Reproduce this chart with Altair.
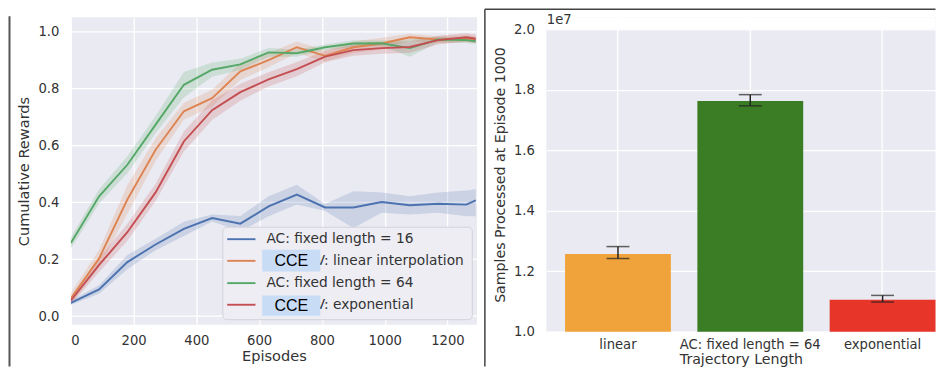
import altair as alt
import pandas as pd

# ---------------- data: left panel ----------------
episodes = [0, 90, 180, 270, 360, 450, 540, 630, 720, 810, 900, 990, 1080, 1170, 1260, 1290]

series_names = [
    "AC: fixed length = 16",
    "V: linear interpolation",
    "AC: fixed length = 64",
    "V: exponential",
]
series_colors = ["#4C72B0", "#DD8452", "#55A868", "#C44E52"]

mean_fixed16 = [0.047, 0.094, 0.19, 0.252, 0.307, 0.345, 0.325, 0.386, 0.427, 0.382, 0.382, 0.401, 0.39, 0.395, 0.392, 0.407]
lo_fixed16 = [0.039, 0.079, 0.165, 0.232, 0.282, 0.333, 0.298, 0.351, 0.392, 0.37, 0.31, 0.363, 0.357, 0.363, 0.351, 0.351]
hi_fixed16 = [0.055, 0.109, 0.215, 0.272, 0.332, 0.357, 0.352, 0.421, 0.462, 0.394, 0.439, 0.435, 0.421, 0.435, 0.442, 0.446]

mean_linear = [0.062, 0.203, 0.41, 0.585, 0.72, 0.766, 0.86, 0.90, 0.945, 0.915, 0.945, 0.958, 0.98, 0.972, 0.975, 0.972]
err_linear = [0.02, 0.03, 0.05, 0.04, 0.03, 0.03, 0.03, 0.025, 0.02, 0.02, 0.02, 0.02, 0.012, 0.012, 0.012, 0.012]

mean_fixed64 = [0.257, 0.421, 0.532, 0.673, 0.813, 0.866, 0.885, 0.927, 0.924, 0.945, 0.958, 0.959, 0.942, 0.972, 0.970, 0.966]
err_fixed64 = [0.02, 0.025, 0.03, 0.03, 0.045, 0.025, 0.02, 0.015, 0.012, 0.01, 0.012, 0.01, 0.03, 0.01, 0.01, 0.01]

mean_expo = [0.055, 0.18, 0.295, 0.435, 0.614, 0.724, 0.787, 0.832, 0.868, 0.912, 0.935, 0.942, 0.946, 0.97, 0.98, 0.975]
err_expo = [0.015, 0.025, 0.03, 0.03, 0.035, 0.035, 0.03, 0.025, 0.025, 0.02, 0.02, 0.02, 0.02, 0.015, 0.015, 0.015]

x_ticks = [0, 200, 400, 600, 800, 1000, 1200]
y_ticks = [0.0, 0.2, 0.4, 0.6, 0.8, 1.0]

# ---------------- data: right panel ----------------
bar_categories = ["linear", "AC: fixed length = 64", "exponential"]
bar_values = [12570000, 17630000, 11060000]
bar_lo = [12420000, 17470000, 10980000]
bar_hi = [12815000, 17840000, 11200000]
bar_colors = ["#F0A33A", "#3A7D24", "#E8352A"]
bar_y_ticks = [10000000, 12000000, 14000000, 16000000, 18000000, 20000000]

# legend layout (manual legend, pixel positions inside the left plot)
legend_box = [152.3, 402.3, 210.3, 303.0]
legend_rows_y = [222.3, 244.0, 266.3, 288.0]
legend_handle_x = [156.7, 185.0]
legend_label_x = [196.0, 245.4, 196.0, 245.4]

# redaction boxes drawn over two legend labels (annotation)
cce_label = "CCE"
cce_box_x = [191.7, 250.0]
cce_box_rows = [[233.0, 254.7], [278.7, 299.0]]

FONT = "DejaVu Sans"
TXT = "#333333"

# ---------------- build tables ----------------
rows = []
means = [mean_fixed16, mean_linear, mean_fixed64, mean_expo]
los = [lo_fixed16,
       [m - e for m, e in zip(mean_linear, err_linear)],
       [m - e for m, e in zip(mean_fixed64, err_fixed64)],
       [m - e for m, e in zip(mean_expo, err_expo)]]
his = [hi_fixed16,
       [m + e for m, e in zip(mean_linear, err_linear)],
       [m + e for m, e in zip(mean_fixed64, err_fixed64)],
       [m + e for m, e in zip(mean_expo, err_expo)]]
for k, name in enumerate(series_names):
    for i, ep in enumerate(episodes):
        rows.append({"episode": ep, "series": name, "order": k,
                     "mean": means[k][i], "lo": los[k][i], "hi": his[k][i]})
df = pd.DataFrame(rows)

LW, LH = 407, 308
x_enc = alt.X("episode:Q", scale=alt.Scale(domain=[0, 1294], nice=False, zero=False),
              axis=alt.Axis(values=x_ticks, title="Episodes", format="d",
                            labelPadding=9.5, titlePadding=2.5, labelFontSize=13.2, titleFontSize=14.6))
y_scale = alt.Scale(domain=[-0.03, 1.05], nice=False, zero=False)
color_scale = alt.Scale(domain=series_names, range=series_colors)

bands = alt.Chart(df).mark_area(opacity=0.2, clip=True).encode(
    x=x_enc,
    y=alt.Y("lo:Q", scale=y_scale,
            axis=alt.Axis(values=y_ticks, format=".1f", title="Cumulative Rewards",
                          labelPadding=12, titlePadding=6, labelFontSize=13.2, titleFontSize=14.6)),
    y2="hi:Q",
    color=alt.Color("series:N", scale=color_scale, legend=None),
    detail="series:N",
)

lines = alt.Chart(df).mark_line(strokeWidth=1.9, clip=True).encode(
    x="episode:Q",
    y="mean:Q",
    color=alt.Color("series:N", scale=color_scale, legend=None),
    order="order:Q",
)

one = pd.DataFrame({"a": [0]})
leg = [alt.Chart(one).mark_rect(fill="#EDEDF3", stroke="#D2D2DA", strokeWidth=1, cornerRadius=4).encode(
    x=alt.value(legend_box[0]), x2=alt.value(legend_box[1]),
    y=alt.value(legend_box[2]), y2=alt.value(legend_box[3]))]
for i, name in enumerate(series_names):
    leg.append(alt.Chart(one).mark_rule(color=series_colors[i], strokeWidth=1.9).encode(
        x=alt.value(legend_handle_x[0]), x2=alt.value(legend_handle_x[1]), y=alt.value(legend_rows_y[i])))
    leg.append(alt.Chart(one).mark_text(text=name, font=FONT, fontSize=13.75, color=TXT,
                                        align="left", baseline="middle").encode(
        x=alt.value(legend_label_x[i]), y=alt.value(legend_rows_y[i])))
for r in cce_box_rows:
    leg.append(alt.Chart(one).mark_rect(color="#C9DCF6").encode(
        x=alt.value(cce_box_x[0]), x2=alt.value(cce_box_x[1]), y=alt.value(r[0]), y2=alt.value(r[1])))
    leg.append(alt.Chart(one).mark_text(text=cce_label, font="Liberation Sans", fontSize=16,
                                        color="black", align="center", baseline="middle").encode(
        x=alt.value((cce_box_x[0] + cce_box_x[1]) / 2), y=alt.value((r[0] + r[1]) / 2 + 0.5)))

left_line = alt.Chart(one).mark_rule(color="#555555", strokeWidth=2).encode(
    x=alt.value(-61.5), y=alt.value(-1), y2=alt.value(350))

left = alt.layer(bands, lines, *leg, left_line).properties(width=LW, height=LH)

# ---------------- right panel ----------------
bdf = pd.DataFrame({"cat": bar_categories, "val": bar_values, "lo": bar_lo, "hi": bar_hi})
RW, RH = 390, 315
ymax = 20396000
ry_scale = alt.Scale(domain=[10000000, ymax], nice=False, zero=False)
rx = alt.X("cat:N", sort=bar_categories,
           scale=alt.Scale(paddingInner=0.2, paddingOuter=0.0707, align=1),
           axis=alt.Axis(title="Trajectory Length", labelAngle=0, bandPosition=0.5,
                         labelPadding=6.5, titlePadding=2, labelFontSize=13.2, titleFontSize=14.2))

bars = alt.Chart(bdf).mark_bar().encode(
    x=rx,
    y=alt.Y("val:Q", scale=ry_scale,
            axis=alt.Axis(values=bar_y_ticks, labelExpr="format(datum.value/1e7, '.1f')",
                          title="Samples Processed at Episode 1000",
                          labelPadding=12, titlePadding=6, labelFontSize=13.2, titleFontSize=14.2)),
    y2=alt.datum(10000000),
    color=alt.Color("cat:N", scale=alt.Scale(domain=bar_categories, range=bar_colors), legend=None),
)
err = alt.Chart(bdf).mark_rule(color="#222222", strokeWidth=1.5).encode(
    x=alt.X("cat:N", sort=bar_categories), y="lo:Q", y2="hi:Q")
cap_lo = alt.Chart(bdf).mark_tick(color="#222222", size=23, thickness=1.5).encode(
    x=alt.X("cat:N", sort=bar_categories), y="lo:Q")
cap_hi = alt.Chart(bdf).mark_tick(color="#222222", size=23, thickness=1.5).encode(
    x=alt.X("cat:N", sort=bar_categories), y="hi:Q")
strip = alt.Chart(one).mark_rect(color="white").encode(
    x=alt.value(0), x2=alt.value(RW), y=alt.datum(20000000), y2=alt.datum(ymax))
offset_txt = alt.Chart(one).mark_text(text="1e7", font=FONT, fontSize=13.2, color=TXT,
                                      align="left", baseline="middle").encode(
    x=alt.value(0.5), y=alt.value(3))
frame_top = alt.Chart(one).mark_rule(color="#444444", strokeWidth=1.5).encode(
    x=alt.value(-61.6), x2=alt.value(RW), y=alt.value(-8.25))
frame_left = alt.Chart(one).mark_rule(color="#444444", strokeWidth=1.5).encode(
    x=alt.value(-61.6), y=alt.value(-8.25), y2=alt.value(350))

right = alt.layer(bars, err, cap_lo, cap_hi, strip, offset_txt, frame_top, frame_left).properties(
    width=RW, height=RH)

chart = alt.hconcat(left, right, spacing=6.5).resolve_scale(color="independent").properties(
    padding=0
).configure_view(
    fill="#EAEAF2", stroke=None
).configure_axis(
    domain=False, ticks=False, tickSize=0, grid=True, gridColor="white", gridWidth=1.3,
    labelFont=FONT, titleFont=FONT, labelColor=TXT, titleColor=TXT, titleFontWeight="normal",
)

chart.save("out.html", embed_options={"renderer": "svg", "actions": False})
